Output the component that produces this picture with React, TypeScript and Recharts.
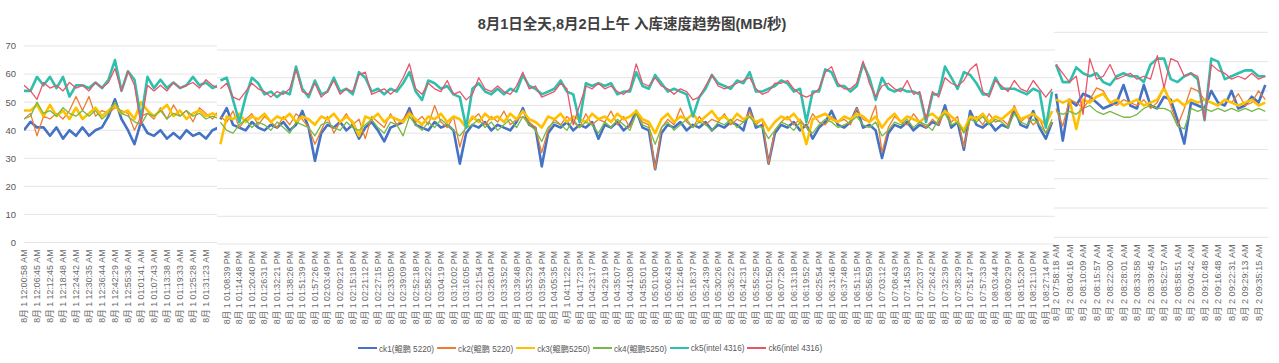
import React from 'react';
import { CartesianGrid, Line, LineChart, XAxis, YAxis } from 'recharts';

const FONT = '"Liberation Sans", "Noto Sans CJK SC", sans-serif';

const title = '8月1日全天,8月2日上午 入库速度趋势图(MB/秒)';
const seriesKeys = ['ck1', 'ck2', 'ck3', 'ck4', 'ck5', 'ck6'];
const seriesNames = ['ck1(鲲鹏 5220)', 'ck2(鲲鹏 5220)', 'ck3(鲲鹏5250)', 'ck4(鲲鹏5250)', 'ck5(intel 4316)', 'ck6(intel 4316)'];
const yTicks = [0, 10, 20, 30, 40, 50, 60, 70];

// ---- screenshot 1: 8月1日 凌晨 ----
const p1Labels = [
  '8月 1 12:00:58 AM', '8月 1 12:06:45 AM', '8月 1 12:12:45 AM', '8月 1 12:18:48 AM', '8月 1 12:24:42 AM',
  '8月 1 12:30:35 AM', '8月 1 12:36:44 AM', '8月 1 12:42:29 AM', '8月 1 12:55:36 AM', '8月 1 01:01:41 AM',
  '8月 1 01:07:43 AM', '8月 1 01:13:38 AM', '8月 1 01:19:33 AM', '8月 1 01:25:28 AM', '8月 1 01:31:23 AM',
];
const p1Ck1 = [40, 43, 41, 41, 38, 41, 37, 40, 38, 41, 38, 40, 41, 45, 51, 44, 40, 35, 43, 39, 38, 40, 37, 39, 37, 40, 38, 39, 37, 40, 41];
const p1Ck2 = [44, 46, 38, 45, 44, 46, 44, 47, 52, 47, 52, 45, 47, 46, 48, 47, 46, 40, 45, 46, 44, 48, 44, 49, 45, 47, 43, 48, 46, 44, 47];
const p1Ck3 = [47, 47, 49, 45, 49, 45, 47, 44, 48, 44, 46, 48, 45, 47, 49, 46, 47, 44, 50, 47, 45, 47, 49, 45, 47, 44, 46, 47, 45, 46, 45];
const p1Ck4 = [44, 45, 50, 46, 47, 45, 48, 46, 45, 47, 45, 47, 44, 46, 50, 46, 45, 43, 42, 46, 45, 47, 44, 46, 45, 47, 45, 46, 44, 45, 44];
const p1Ck5 = [54, 54, 59, 56, 59, 55, 59, 52, 56, 56, 55, 57, 55, 58, 65, 54, 61, 58, 44, 59, 55, 58, 55, 57, 55, 56, 59, 56, 57, 55, 56];
const p1Ck6 = [56, 54, 51, 57, 55, 56, 54, 57, 55, 56, 54, 57, 55, 57, 62, 54, 61, 56, 42, 56, 54, 56, 54, 57, 55, 56, 57, 55, 58, 56, 55];

// ---- screenshot 2: 8月1日 下午 ----
const p2Labels = [
  '8月 1 01:08:39 PM', '8月 1 01:14:48 PM', '8月 1 01:20:40 PM', '8月 1 01:26:31 PM', '8月 1 01:32:21 PM',
  '8月 1 01:38:26 PM', '8月 1 01:51:39 PM', '8月 1 01:57:26 PM', '8月 1 02:03:49 PM', '8月 1 02:09:21 PM',
  '8月 1 02:15:18 PM', '8月 1 02:21:12 PM', '8月 1 02:27:15 PM', '8月 1 02:33:05 PM', '8月 1 02:39:09 PM',
  '8月 1 02:52:18 PM', '8月 1 02:58:22 PM', '8月 1 03:04:19 PM', '8月 1 03:10:02 PM', '8月 1 03:16:05 PM',
  '8月 1 03:21:54 PM', '8月 1 03:28:04 PM', '8月 1 03:33:52 PM', '8月 1 03:39:48 PM', '8月 1 03:53:29 PM',
  '8月 1 03:59:34 PM', '8月 1 04:05:35 PM', '8月 1 04:11:22 PM', '8月 1 04:17:23 PM', '8月 1 04:23:17 PM',
  '8月 1 04:29:19 PM', '8月 1 04:35:07 PM', '8月 1 04:41:08 PM', '8月 1 04:55:01 PM', '8月 1 05:01:00 PM',
  '8月 1 05:06:43 PM', '8月 1 05:12:46 PM', '8月 1 05:18:37 PM', '8月 1 05:24:39 PM', '8月 1 05:30:26 PM',
  '8月 1 05:36:22 PM', '8月 1 05:42:31 PM', '8月 1 05:55:25 PM', '8月 1 06:01:50 PM', '8月 1 06:07:26 PM',
  '8月 1 06:13:18 PM', '8月 1 06:19:52 PM', '8月 1 06:25:54 PM', '8月 1 06:31:46 PM', '8月 1 06:37:48 PM',
  '8月 1 06:51:15 PM', '8月 1 06:56:59 PM', '8月 1 07:03:12 PM', '8月 1 07:08:43 PM', '8月 1 07:14:53 PM',
  '8月 1 07:20:37 PM', '8月 1 07:26:42 PM', '8月 1 07:32:39 PM', '8月 1 07:38:29 PM', '8月 1 07:51:47 PM',
  '8月 1 07:57:33 PM', '8月 1 08:03:44 PM', '8月 1 08:09:29 PM', '8月 1 08:15:20 PM', '8月 1 08:21:10 PM',
  '8月 1 08:27:14 PM',
];
const p2Ck1 = [
  45, 49, 43, 42, 41, 44, 42, 41, 43, 42, 44, 41, 43, 48, 42, 30, 40, 43, 42, 44,
  41, 43, 38, 42, 44, 41, 37, 42, 43, 44, 49, 43, 42, 41, 44, 42, 43, 41, 29, 40,
  43, 42, 44, 41, 43, 42, 41, 44, 49, 43, 42, 28, 40, 43, 42, 44, 41, 43, 42, 44,
  38, 43, 42, 44, 41, 43, 48, 42, 41, 27, 40, 43, 42, 44, 41, 43, 42, 44, 41, 43,
  42, 44, 43, 41, 49, 42, 43, 29, 40, 43, 42, 44, 41, 43, 38, 42, 44, 48, 43, 42,
  44, 49, 42, 43, 41, 31, 40, 43, 42, 44, 41, 43, 42, 44, 43, 50, 42, 44, 34, 48,
  43, 42, 44, 41, 43, 42, 49, 43, 42, 48, 42, 38, 44,
];
const p2Ck2 = [
  46, 44, 48, 42, 45, 47, 43, 46, 44, 42, 46, 43, 47, 45, 42, 36, 41, 46, 40, 44,
  47, 43, 45, 38, 46, 44, 42, 47, 43, 45, 48, 44, 46, 43, 50, 44, 42, 46, 35, 43,
  45, 47, 43, 46, 44, 48, 43, 45, 46, 44, 42, 33, 41, 45, 43, 46, 44, 42, 47, 43,
  45, 44, 48, 43, 46, 42, 47, 44, 43, 27, 42, 45, 43, 49, 44, 42, 46, 43, 45, 44,
  47, 43, 45, 44, 48, 43, 45, 29, 41, 44, 46, 43, 45, 42, 47, 44, 43, 46, 44, 45,
  43, 49, 45, 44, 50, 33, 42, 46, 44, 43, 47, 44, 42, 45, 43, 48, 44, 46, 35, 45,
  46, 43, 47, 44, 45, 43, 50, 44, 46, 43, 45, 40, 44,
];
const p2Ck3 = [
  36, 46, 45, 47, 44, 46, 45, 47, 44, 46, 45, 47, 44, 46, 45, 43, 46, 45, 47, 44,
  46, 44, 39, 46, 45, 47, 44, 46, 45, 44, 47, 45, 43, 46, 45, 47, 44, 46, 45, 42,
  46, 44, 47, 45, 46, 44, 47, 45, 48, 45, 44, 42, 46, 45, 47, 44, 46, 45, 44, 47,
  45, 46, 44, 47, 45, 46, 48, 45, 44, 40, 45, 47, 44, 46, 45, 47, 44, 46, 48, 45,
  46, 44, 47, 45, 46, 44, 45, 41, 44, 46, 45, 47, 44, 36, 45, 46, 47, 45, 44, 46,
  45, 47, 46, 44, 46, 42, 45, 47, 44, 46, 45, 44, 46, 47, 45, 48, 46, 44, 41, 46,
  45, 47, 44, 46, 45, 47, 49, 45, 46, 47, 45, 43, 48,
];
const p2Ck4 = [
  44, 41, 40, 43, 45, 42, 44, 43, 41, 44, 42, 40, 44, 43, 42, 39, 43, 44, 42, 41,
  44, 42, 41, 43, 45, 42, 40, 44, 43, 39, 46, 43, 41, 44, 42, 45, 43, 41, 39, 42,
  43, 45, 42, 44, 41, 43, 45, 42, 46, 43, 41, 37, 42, 44, 43, 41, 45, 42, 44, 43,
  40, 44, 42, 45, 43, 41, 47, 43, 42, 36, 42, 44, 41, 43, 45, 42, 44, 43, 41, 44,
  43, 45, 42, 44, 46, 43, 42, 38, 41, 44, 43, 41, 44, 42, 40, 43, 45, 44, 42, 43,
  44, 46, 43, 42, 44, 39, 41, 44, 43, 45, 42, 44, 43, 41, 45, 47, 43, 44, 40, 45,
  44, 46, 43, 45, 44, 42, 47, 44, 43, 45, 43, 40, 45,
];
const p2Ck5 = [
  59, 60, 52, 44, 53, 60, 58, 54, 55, 53, 55, 54, 64, 56, 53, 59, 54, 55, 60, 55,
  56, 54, 62, 60, 55, 56, 54, 56, 55, 58, 62, 55, 52, 59, 58, 56, 57, 54, 53, 42,
  56, 58, 55, 54, 56, 54, 56, 55, 61, 57, 56, 54, 55, 56, 59, 55, 54, 44, 58, 57,
  58, 57, 58, 54, 55, 55, 62, 57, 56, 61, 58, 55, 56, 55, 54, 46, 53, 56, 61, 58,
  57, 56, 59, 58, 62, 55, 55, 56, 57, 59, 58, 55, 56, 44, 55, 55, 63, 62, 57, 57,
  55, 57, 65, 60, 52, 60, 56, 55, 56, 55, 55, 54, 44, 54, 54, 64, 60, 56, 62, 61,
  58, 54, 54, 60, 56, 56, 56, 55, 54, 56, 55, 42, 55,
];
const p2Ck6 = [
  56, 58, 53, 52, 55, 58, 56, 55, 53, 55, 54, 56, 63, 55, 54, 58, 53, 55, 59, 54,
  56, 55, 61, 62, 54, 55, 56, 54, 56, 60, 65, 56, 54, 58, 56, 55, 59, 54, 55, 52,
  54, 60, 56, 55, 57, 55, 54, 57, 62, 56, 57, 53, 54, 55, 58, 56, 43, 50, 57, 56,
  58, 56, 57, 55, 54, 56, 65, 58, 57, 60, 57, 56, 54, 56, 55, 52, 53, 57, 61, 57,
  56, 57, 58, 59, 60, 56, 54, 55, 58, 58, 59, 56, 54, 53, 54, 56, 62, 64, 58, 56,
  56, 58, 66, 58, 53, 57, 58, 56, 55, 59, 54, 55, 45, 55, 53, 60, 58, 57, 59, 63,
  65, 55, 53, 59, 57, 55, 59, 56, 55, 59, 56, 53, 56,
];

// ---- screenshot 3: 8月2日 上午 ----
const p3Labels = [
  '8月 2 07:58:18 AM', '8月 2 08:04:16 AM', '8月 2 08:10:09 AM', '8月 2 08:15:57 AM', '8月 2 08:22:00 AM',
  '8月 2 08:28:01 AM', '8月 2 08:33:58 AM', '8月 2 08:39:45 AM', '8月 2 08:52:57 AM', '8月 2 08:58:51 AM',
  '8月 2 09:04:42 AM', '8月 2 09:10:48 AM', '8月 2 09:16:48 AM', '8月 2 09:22:31 AM', '8月 2 09:29:13 AM',
  '8月 2 09:35:15 AM',
];
const p3Ck1 = [49, 33, 47, 45, 49, 48, 46, 44, 45, 46, 52, 45, 44, 52, 45, 44, 48, 47, 40, 32, 46, 45, 44, 50, 46, 45, 50, 44, 45, 48, 46, 52];
const p3Ck2 = [44, 38, 47, 46, 44, 47, 51, 50, 46, 45, 47, 46, 45, 47, 44, 46, 51, 45, 38, 44, 51, 50, 47, 46, 45, 47, 46, 49, 45, 46, 50, 47];
const p3Ck3 = [47, 46, 47, 37, 47, 46, 48, 49, 46, 47, 45, 46, 47, 45, 46, 47, 51, 46, 47, 45, 47, 46, 47, 46, 45, 47, 46, 45, 46, 47, 45, 46];
const p3Ck4 = [43, 42, 43, 42, 44, 45, 43, 42, 43, 42, 41, 41, 42, 44, 45, 44, 44, 43, 38, 37, 44, 43, 44, 43, 44, 43, 44, 43, 44, 43, 44, 43];
const p3Ck5 = [59, 53, 53, 58, 56, 55, 56, 53, 52, 55, 56, 55, 55, 53, 59, 61, 61, 54, 53, 55, 56, 54, 40, 61, 60, 54, 55, 56, 57, 57, 55, 55];
const p3Ck6 = [59, 56, 53, 55, 42, 61, 54, 55, 59, 54, 55, 56, 54, 55, 54, 62, 51, 61, 60, 55, 56, 55, 40, 59, 57, 56, 54, 55, 54, 56, 54, 55];

const LINE_STYLE: Record<string, { color: string; width: number }> = {
  ck1: { color: '#4472C4', width: 2.6 },
  ck2: { color: '#ED7D31', width: 1.3 },
  ck3: { color: '#FFC000', width: 2.6 },
  ck4: { color: '#76B947', width: 1.3 },
  ck5: { color: '#2FBFAD', width: 2.6 },
  ck6: { color: '#E8566A', width: 1.3 },
};

type Row = Record<string, number>;

function buildRows(cols: number[][]): Row[] {
  return cols[0].map((_, i) => {
    const row: Row = { i };
    seriesKeys.forEach((k, s) => {
      row[k] = cols[s][i];
    });
    return row;
  });
}

const CHART_H = 340;

function TimeTick(props: any) {
  const { x, y, payload, names, size } = props;
  const text = names.get(payload.value) ?? '';
  const ay = y - 1;
  return (
    <text
      x={x}
      y={ay}
      transform={`rotate(-90 ${x} ${ay})`}
      textAnchor="end"
      dy="0.34em"
      fontSize={size}
      fill="#6a6a6a"
      fontFamily={FONT}
    >
      {text}
    </text>
  );
}

function Panel({
  left,
  width,
  padLeft = 0,
  plotTop,
  plotBottom,
  domain,
  rows,
  labels,
  tickStart,
  labelSize,
  showY,
}: {
  left: number;
  width: number;
  padLeft?: number;
  plotTop: number;
  plotBottom: number;
  domain: [number, number];
  rows: Row[];
  labels: string[];
  tickStart: number;
  labelSize: number;
  showY?: boolean;
}) {
  const ticks = labels.map((_, k) => tickStart + 2 * k);
  const names = new Map(ticks.map((t, k) => [t, labels[k]]));
  return (
    <div style={{ position: 'absolute', left: left - padLeft, top: 0 }}>
      <LineChart
        width={width + padLeft}
        height={CHART_H}
        data={rows}
        margin={{ top: plotTop, right: 0, bottom: 0, left: padLeft }}
      >
        <CartesianGrid vertical={false} stroke="#e4e4e4" horizontalValues={yTicks} />
        <XAxis
          dataKey="i"
          type="number"
          domain={domain}
          allowDataOverflow
          ticks={ticks}
          interval={0}
          height={CHART_H - plotBottom}
          axisLine={false}
          tickLine={false}
          tick={(p: any) => <TimeTick {...p} names={names} size={labelSize} />}
        />
        <YAxis
          type="number"
          domain={[0, 70]}
          ticks={yTicks}
          hide={!showY}
          width={24}
          axisLine={false}
          tickLine={false}
          tick={{ fontSize: 9.5, fill: '#595959', fontFamily: FONT }}
        />
        {seriesKeys.map((k) => (
          <Line
            key={k}
            dataKey={k}
            type="linear"
            stroke={LINE_STYLE[k].color}
            strokeWidth={LINE_STYLE[k].width}
            dot={false}
            activeDot={false}
            isAnimationActive={false}
            strokeLinejoin="round"
          />
        ))}
      </LineChart>
    </div>
  );
}

const rows1 = buildRows([p1Ck1, p1Ck2, p1Ck3, p1Ck4, p1Ck5, p1Ck6]);
const rows2 = buildRows([p2Ck1, p2Ck2, p2Ck3, p2Ck4, p2Ck5, p2Ck6]);
const rows3 = buildRows([p3Ck1, p3Ck2, p3Ck3, p3Ck4, p3Ck5, p3Ck6]);

function Legend() {
  return (
    <div
      style={{
        position: 'absolute',
        left: 358,
        top: 342,
        display: 'flex',
        alignItems: 'center',
        fontFamily: FONT,
        fontSize: 8.2,
        color: '#595959',
        whiteSpace: 'nowrap',
      }}
    >
      {seriesKeys.map((k, s) => (
        <div key={k} style={{ display: 'flex', alignItems: 'center', marginRight: 3 }}>
          <span
            style={{
              display: 'inline-block',
              width: 19,
              height: LINE_STYLE[k].width,
              background: LINE_STYLE[k].color,
              marginRight: 2,
            }}
          />
          <span>{seriesNames[s]}</span>
        </div>
      ))}
    </div>
  );
}

export default function App() {
  return (
    <div style={{ position: 'absolute', left: 0, top: 0, width: 1279, height: 363, background: '#fff', overflow: 'hidden' }}>
      <div
        style={{
          position: 'absolute',
          left: 332,
          top: 12,
          width: 600,
          textAlign: 'center',
          fontFamily: FONT,
          fontWeight: 'bold',
          fontSize: 14.5,
          color: '#404040',
        }}
      >
        {title}
      </div>
      <Panel left={0} width={217} plotTop={46} plotBottom={242.5} domain={[0, 29.7]} rows={rows1} labels={p1Labels} tickStart={0} labelSize={8.8} showY />
      <Panel left={217} width={838} plotTop={50} plotBottom={244} domain={[-0.54, 132.46]} rows={rows2} labels={p2Labels} tickStart={1} labelSize={8.8} />
      <Panel left={1054} width={214} padLeft={8} plotTop={32.3} plotBottom={237.3} domain={[-0.3, 31.4]} rows={rows3} labels={p3Labels} tickStart={0} labelSize={9.2} />
      <Legend />
    </div>
  );
}
